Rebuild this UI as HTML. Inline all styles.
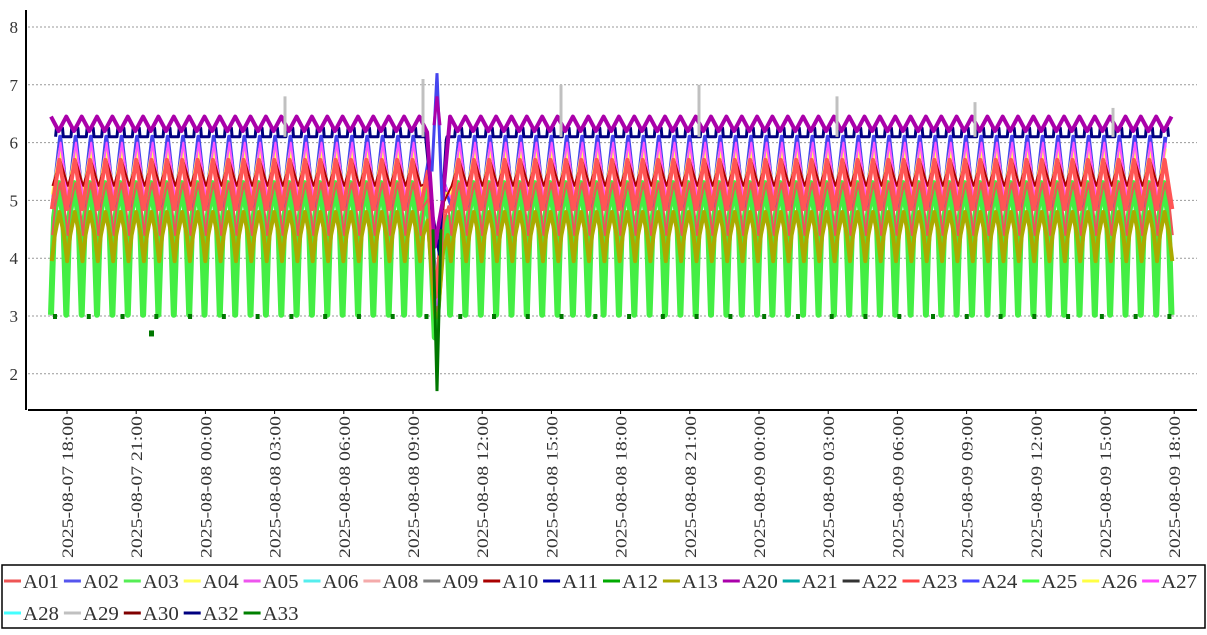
<!DOCTYPE html>
<html><head><meta charset="utf-8"><style>
body{margin:0;background:#fff;width:1207px;height:630px;overflow:hidden;font-family:"Liberation Serif","DejaVu Serif",serif}
</style></head><body>
<svg id="s" width="1207" height="630" xmlns="http://www.w3.org/2000/svg">
<g id="grid"></g><g id="data"></g><g id="axes"></g><g id="leg"></g>
</svg>
<script>
const NS="http://www.w3.org/2000/svg";
function el(p,t,a,txt){const e=document.createElementNS(NS,t);for(const k in a)e.setAttribute(k,a[k]);if(txt!==undefined)e.textContent=txt;document.getElementById(p).appendChild(e);return e;}
const Y=v=>27+(8-v)*57.8;
for(let v=2;v<=8;v++){el('grid','line',{x1:28,x2:1197,y1:Y(v),y2:Y(v),stroke:'#999','stroke-dasharray':'2,2','stroke-width':1});
el('axes','text',{x:18,y:Y(v)+6,'font-size':17,fill:'#333','text-anchor':'end'},v);}
el('axes','line',{x1:26,x2:26,y1:10,y2:410,stroke:'#000','stroke-width':2});
el('axes','line',{x1:28,x2:1197,y1:410,y2:410,stroke:'#000','stroke-width':2});
const labs=["2025-08-07  18:00","2025-08-07  21:00","2025-08-08  00:00","2025-08-08  03:00","2025-08-08  06:00","2025-08-08  09:00","2025-08-08  12:00","2025-08-08  15:00","2025-08-08  18:00","2025-08-08  21:00","2025-08-09  00:00","2025-08-09  03:00","2025-08-09  06:00","2025-08-09  09:00","2025-08-09  12:00","2025-08-09  15:00","2025-08-09  18:00"];
labs.forEach((l,i)=>{const x=67+i*69.2;el('axes','line',{x1:x,x2:x,y1:410,y2:414,stroke:'#000'});
el('axes','text',{transform:`translate(${x+6},558) rotate(-90)`,'font-size':16,fill:'#333','xml:space':'preserve','textLength':142,'lengthAdjust':'spacingAndGlyphs'},l);});
const P=15.35,X0=51,X1=1173,AN=437;
// keys: list of [phase, value] within one cycle (phase 0..1)
function series(col,w,keys,ph){let pts=[];for(let c=-1;c<75;c++){for(const [t,v0] of keys){let x=X0+(c+t+ph)*P;if(x<X0||x>X1)continue;let v=v0;let d=Math.abs(x-AN);if(d<10)v-=(10-d)/10*(v-2.3)*0.7;pts.push(x.toFixed(1)+','+Y(v).toFixed(1));}}
el('data','polyline',{points:pts.join(' '),fill:'none',stroke:col,'stroke-width':w,'stroke-linejoin':'round'});}
const dip=(lo,mid,hi)=>[[0,lo],[0.2,mid],[0.5,hi],[0.8,mid]];
const tri=(lo,hi)=>[[0,lo],[0.5,hi]];
series('#c0c0c0',3,dip(3.0,4.6,5.1),0.02);
series('#55ffff',3,dip(3.1,4.7,5.2),0.04);
series('#44ee44',6,dip(3.02,4.7,5.3),0);
series('#aaaa00',4,dip(3.95,4.4,4.8),0.05);
series('#ee5555',2,dip(4.4,4.9,5.3),0.08);
series('#4444ee',4,tri(4.9,6.1),0.1);
series('#ffff55',3,tri(5.1,5.9),0.1);
series('#ff55ff',2,tri(5.0,6.0),0.12);
series('#aa0000',2,tri(5.25,5.7),0.1);
series('#ff5555',4,tri(4.85,5.7),0.05);
series('#000080',3,[[0,6.1],[0.05,6.25],[0.45,6.25],[0.5,6.1]],0.3);
series('#aa00aa',4,tri(6.2,6.45),0.5);
for(let x=X0+2;x<X1;x+=P*2.2){el('data','rect',{x:x,y:Y(3)-2,width:4,height:5,fill:'#007700'});}
el('data','polyline',{points:`${AN-4},${Y(4.5)} ${AN},${Y(1.7)} ${AN+4},${Y(4.5)}`,fill:'none',stroke:'#007700','stroke-width':3});
el('data','polyline',{points:`${AN-5},${Y(5.5)} ${AN},${Y(7.2)} ${AN+5},${Y(5)}`,fill:'none',stroke:'#4444ee','stroke-width':3});
el('data','polyline',{points:`${AN-3},${Y(6.3)} ${AN},${Y(6.8)} ${AN+3},${Y(6.3)}`,fill:'none',stroke:'#aa00aa','stroke-width':3});
el('data','rect',{x:149,y:Y(2.75),width:5,height:6,fill:'#007700'});
[[285,6.8],[423,7.1],[561,7.0],[699,7.0],[837,6.8],[975,6.7],[1113,6.6]].forEach(([x,v])=>el('data','line',{x1:x,x2:x,y1:Y(6.1),y2:Y(v),stroke:'#c0c0c0','stroke-width':3}));
el('leg','rect',{x:2,y:565,width:1203,height:63,fill:'#fff',stroke:'#000','stroke-width':1.5});
const L=[["A01","#ee5555"],["A02","#5555ee"],["A03","#55ee55"],["A04","#ffff55"],["A05","#ee55ee"],["A06","#55eeee"],["A08","#f4aaaa"],["A09","#808080"],["A10","#aa0000"],["A11","#0000aa"],["A12","#00aa00"],["A13","#aaaa00"],["A20","#aa00aa"],["A21","#00aaaa"],["A22","#333333"],["A23","#ff4444"],["A24","#4444ff"],["A25","#44ff44"],["A26","#ffff44"],["A27","#ff44ff"],["A28","#44ffff"],["A29","#c0c0c0"],["A30","#800000"],["A32","#000080"],["A33","#008000"]];
L.forEach(([n,c],i)=>{const r=i<20?0:1,k=i<20?i:i-20;const x=4+k*59.9,y=r?613:581;
el('leg','line',{x1:x,x2:x+17,y1:y,y2:y,stroke:c,'stroke-width':3});
el('leg','text',{x:x+19,y:y+7,'font-size':20,fill:'#333','textLength':36,'lengthAdjust':'spacingAndGlyphs'},n);});
</script>
</body></html>
